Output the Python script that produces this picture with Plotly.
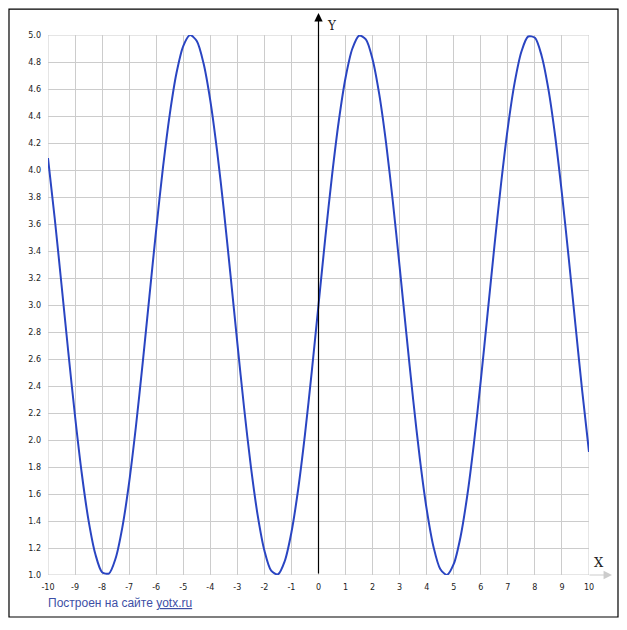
import plotly.graph_objects as go

# Curve samples, x from -10 to 10 in steps of 0.25
x_vals = [i * 0.25 for i in range(-40, 41)]
y_vals = [4.088, 3.639, 3.150, 2.652, 2.176, 1.750, 1.403, 1.155, 1.021, 1.011,
          1.124, 1.355, 1.686, 2.100, 2.570, 3.066, 3.559, 4.017, 4.411, 4.718,
          4.918, 4.999, 4.955, 4.790, 4.514, 4.143, 3.702, 3.216, 2.718, 2.237,
          1.803, 1.444, 1.181, 1.032, 1.005, 1.102, 1.317, 1.637, 2.041, 2.505,
          3.000, 3.495, 3.959, 4.363, 4.683, 4.898, 4.995, 4.968, 4.819, 4.556,
          4.197, 3.763, 3.282, 2.784, 2.298, 1.857, 1.486, 1.210, 1.045, 1.001,
          1.082, 1.282, 1.589, 1.983, 2.441, 2.934, 3.430, 3.900, 4.314, 4.645,
          4.876, 4.989, 4.979, 4.845, 4.597, 4.250, 3.824, 3.348, 2.850, 2.361,
          1.912]

x_ticks = list(range(-10, 11))
y_ticks = [round(1 + 0.2 * i, 1) for i in range(21)]
y_tick_text = [f"{v:.1f}" for v in y_ticks]

fig = go.Figure()
fig.add_trace(go.Scatter(x=x_vals, y=y_vals, mode="lines", cliponaxis=False,
                         line=dict(color="#2a45c2", width=2, shape="spline", smoothing=0.8),
                         hoverinfo="skip", showlegend=False))

tick_font = dict(family="DejaVu Sans", size=8, color="#222222")
fig.update_layout(
    width=627, height=630,
    margin=dict(l=40, r=46, t=27, b=63),
    paper_bgcolor="white", plot_bgcolor="white",
    xaxis=dict(range=[-10, 10], tickmode="array", tickvals=x_ticks,
               ticktext=[str(v) for v in x_ticks], showgrid=True, gridcolor="#cccccc",
               gridwidth=1, zeroline=False, showline=False, ticks="", tickfont=tick_font,
               ticklabelstandoff=6, fixedrange=True),
    yaxis=dict(range=[1, 5], tickmode="array", tickvals=y_ticks, ticktext=y_tick_text,
               showgrid=True, gridcolor="#cccccc", gridwidth=1, zeroline=False,
               showline=False, ticks="", tickfont=tick_font, ticklabelstandoff=6,
               fixedrange=True),
    shapes=[
        # outer frame
        dict(type="rect", xref="paper", yref="paper", x0=-0.0721, x1=1.0536,
             y0=-0.0778, y1=1.0481, line=dict(color="black", width=1.2)),
        # grid border lines
        dict(type="rect", xref="x", yref="y", x0=-10, x1=10, y0=1, y1=5,
             line=dict(color="#cccccc", width=1), layer="below"),
    ],
    annotations=[
        # Y axis arrow
        dict(x=0, y=1.0407, xref="x", yref="paper", ax=0, ay=562, axref="pixel", ayref="pixel",
             showarrow=True, arrowhead=2, arrowsize=1.4, arrowwidth=1.2, arrowcolor="black",
             text=""),
        # X axis arrow extension
        dict(x=1.0425, y=1, xref="paper", yref="y", ax=-24, ay=0,
             showarrow=True, arrowhead=2, arrowsize=1.4, arrowwidth=1.2, arrowcolor="#cccccc",
             text=""),
        dict(x=0.0, y=1.0407, xref="x", yref="paper", xshift=13, yshift=-4, text="Y",
             showarrow=False, font=dict(family="DejaVu Serif", size=12, color="#222222")),
        dict(x=1.0315, y=1.0, xref="paper", yref="y", yshift=13, text="X",
             showarrow=False, font=dict(family="DejaVu Serif", size=13, color="#222222")),
        dict(x=-0.004, y=-0.052, xref="paper", yref="paper", xanchor="left", yanchor="middle",
             text='Построен на сайте <span style="text-decoration:underline">yotx.ru</span>',
             showarrow=False, font=dict(family="Liberation Sans", size=12, color="#3d4fa6")),
    ],
)

fig.write_html("out.html")
